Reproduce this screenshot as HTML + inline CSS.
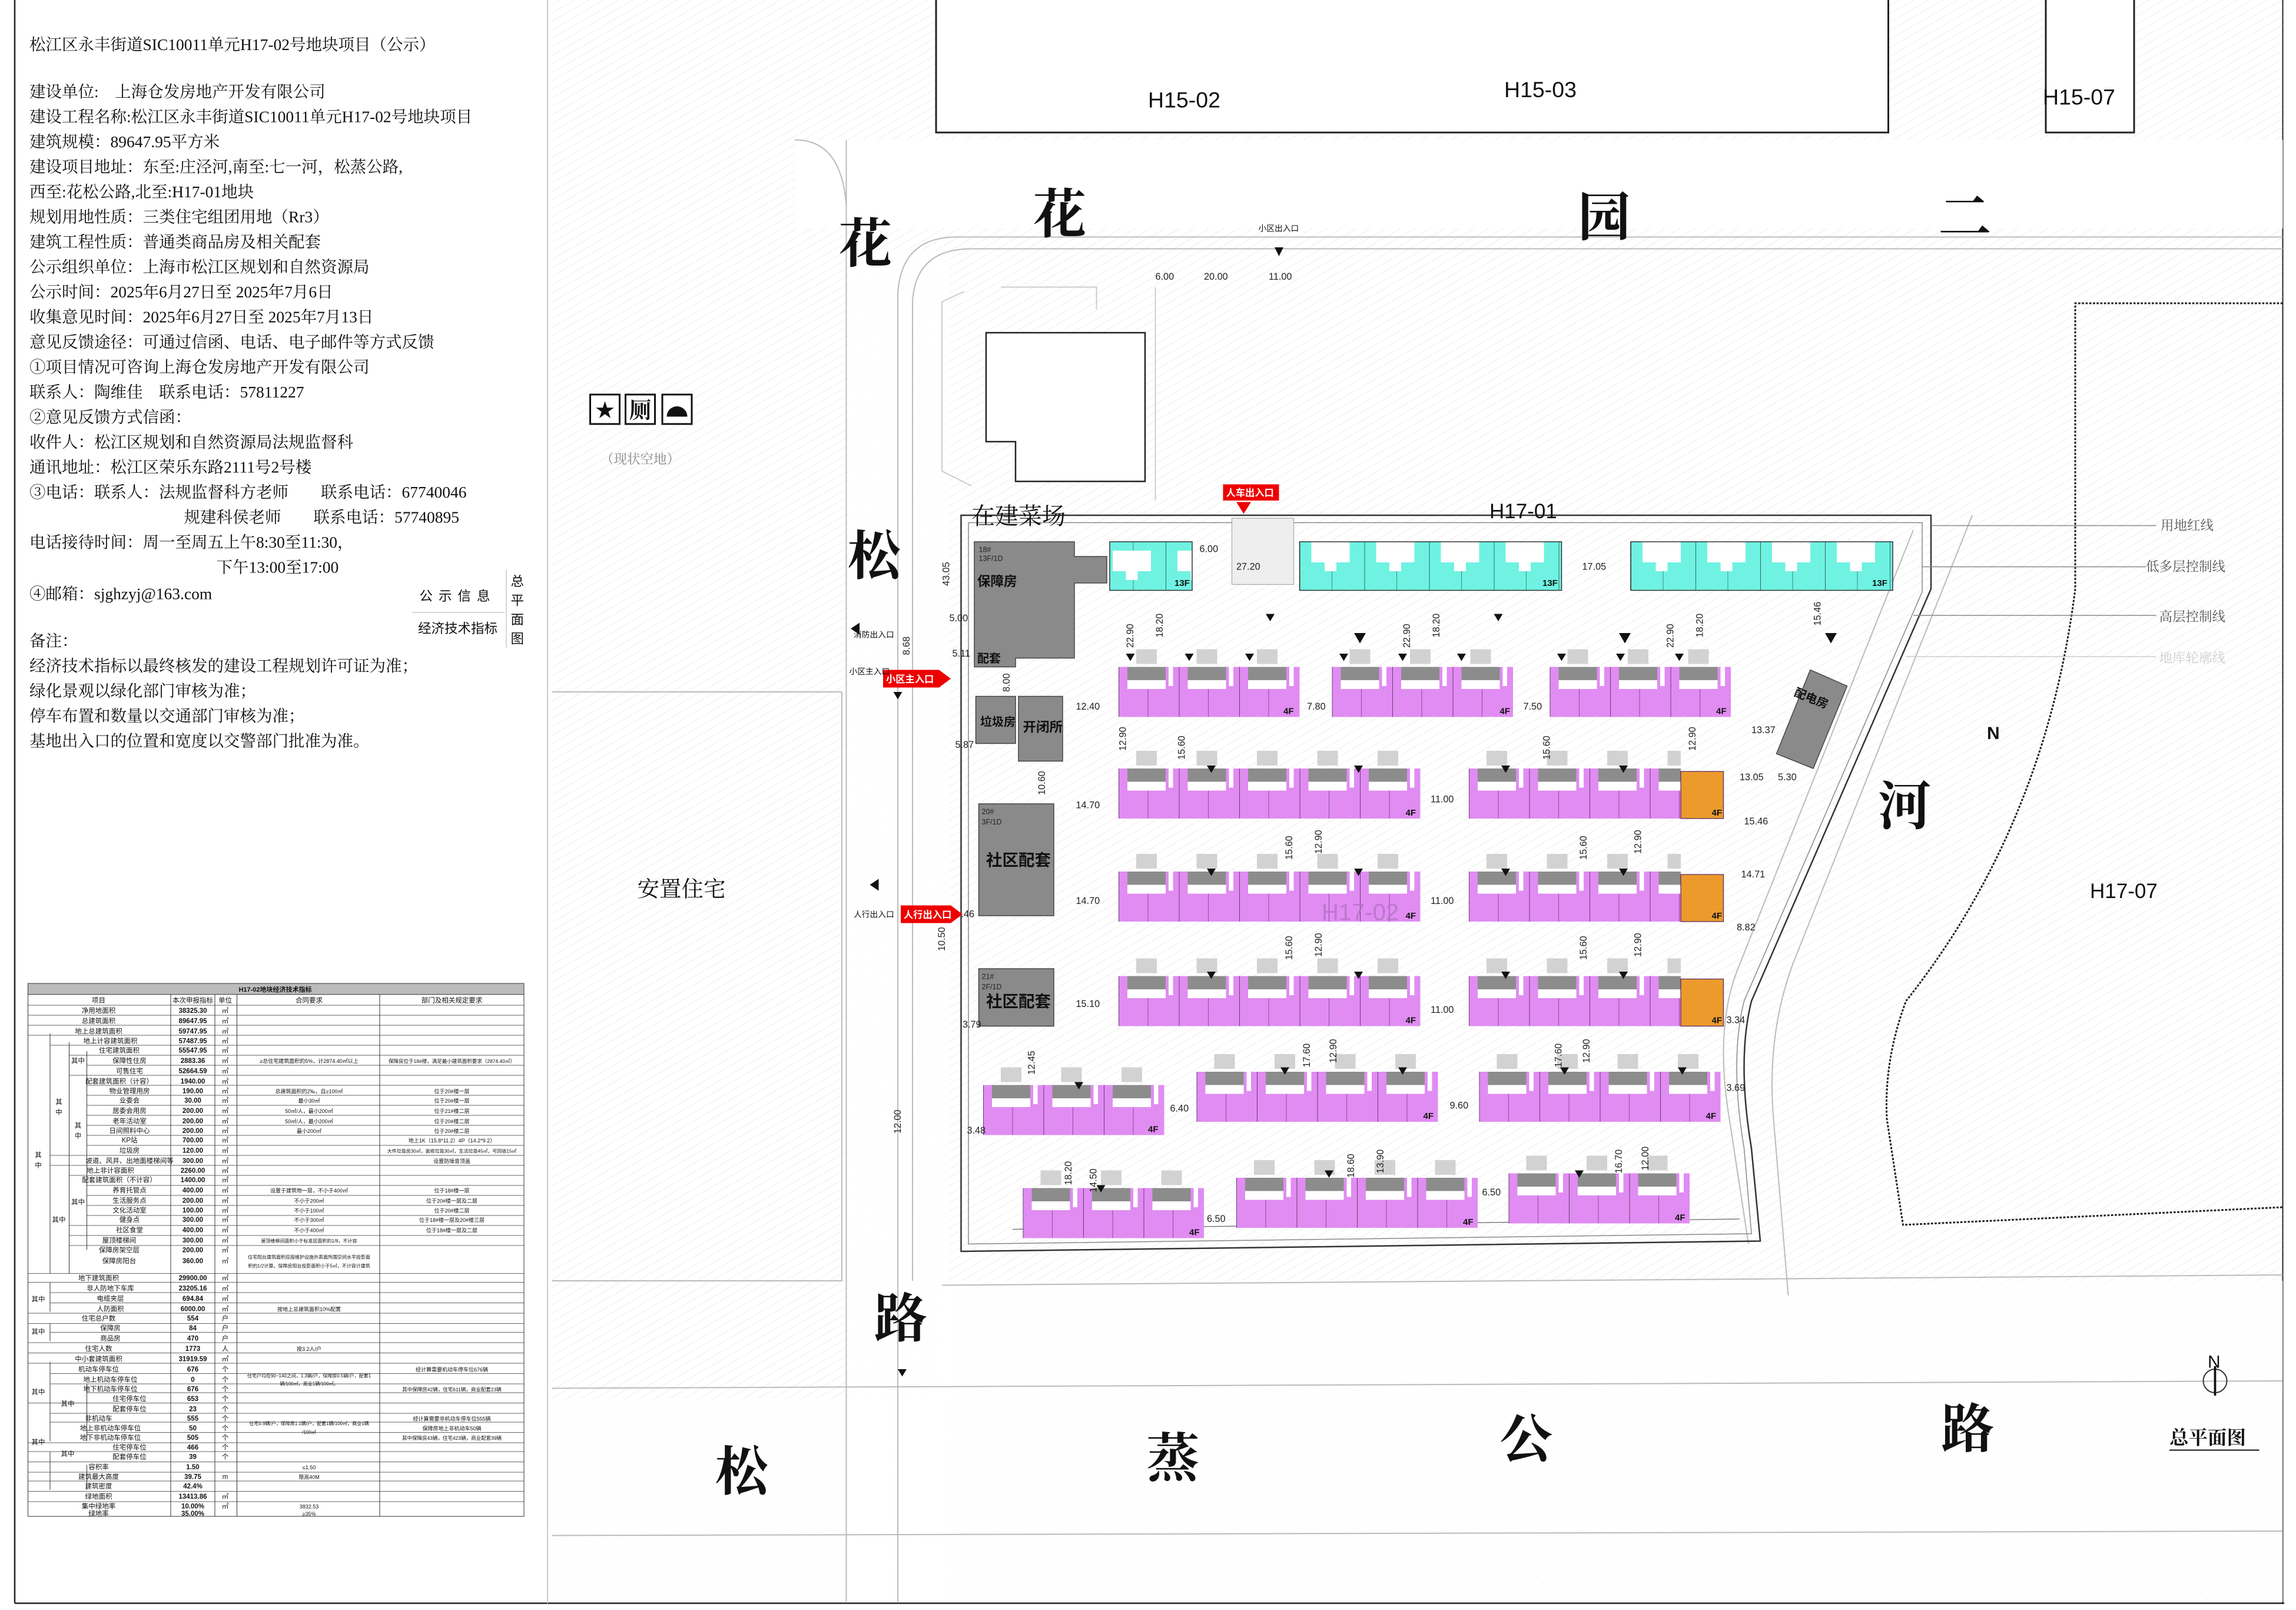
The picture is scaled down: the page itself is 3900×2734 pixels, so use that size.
<!DOCTYPE html>
<html><head><meta charset="utf-8">
<style>
html,body{margin:0;padding:0;background:#fff;}
svg{display:block;}
.t{font-family:"Liberation Serif","Noto Serif CJK SC",serif;fill:#111;}
.s{font-family:"Liberation Sans","Noto Sans CJK SC",sans-serif;fill:#111;}
</style></head>
<body>
<svg width="3900" height="2734" viewBox="0 0 1560 1093.6" xmlns="http://www.w3.org/2000/svg">
<defs>
<pattern id="hatch" width="5" height="5" patternUnits="userSpaceOnUse" patternTransform="rotate(60)">
<line x1="0" y1="0" x2="0" y2="5" stroke="#dcdcdc" stroke-width="0.5"/>
</pattern>
<pattern id="pu" width="41" height="46" patternUnits="userSpaceOnUse">
<rect x="0" y="12" width="41" height="34" fill="#e08cf2"/>
<rect x="12" y="0" width="14" height="10" fill="#d2d2d2"/>
<rect x="6" y="12" width="26" height="9" fill="#8c8c8c"/>
<rect x="6" y="21" width="26" height="6" fill="#fff"/>
<rect x="34" y="12" width="3" height="13" fill="#fff"/>
<line x1="0.2" y1="12" x2="0.2" y2="46" stroke="#6a3a74" stroke-width="0.4"/>
<line x1="20" y1="27" x2="20" y2="46" stroke="#6a3a74" stroke-width="0.3"/>
</pattern>
<pattern id="tu" width="44" height="34" patternUnits="userSpaceOnUse">
<rect x="0" y="0" width="44" height="34" fill="#6ff2e2"/>
<rect x="8" y="0" width="26" height="14" fill="#fff"/>
<rect x="17" y="14" width="8" height="6" fill="#fff"/>
<line x1="0.2" y1="0" x2="0.2" y2="34" stroke="#2a6a66" stroke-width="0.4"/>
<line x1="22" y1="20" x2="22" y2="34" stroke="#2a6a66" stroke-width="0.3"/>
</pattern>
</defs>

<!-- frame -->
<line x1="10" y1="0" x2="10" y2="1089" stroke="#222" stroke-width="1"/>
<line x1="10" y1="1089" x2="1552" y2="1089" stroke="#222" stroke-width="1"/>
<line x1="1551" y1="0" x2="1551" y2="1089" stroke="#222" stroke-width="0.8"/>
<line x1="372" y1="0" x2="372" y2="1089" stroke="#ccc" stroke-width="0.8"/>

<!-- left text -->
<g class="t" font-size="11">
<text x="20" y="34">松江区永丰街道SIC10011单元H17-02号地块项目（公示）</text>
<text x="20" y="66">建设单位:　上海仓发房地产开发有限公司</text>
<text x="20" y="83">建设工程名称:松江区永丰街道SIC10011单元H17-02号地块项目</text>
<text x="20" y="100">建筑规模：89647.95平方米</text>
<text x="20" y="117">建设项目地址：东至:庄泾河,南至:七一河，松蒸公路,</text>
<text x="20" y="134">西至:花松公路,北至:H17-01地块</text>
<text x="20" y="151">规划用地性质：三类住宅组团用地（Rr3）</text>
<text x="20" y="168">建筑工程性质：普通类商品房及相关配套</text>
<text x="20" y="185">公示组织单位：上海市松江区规划和自然资源局</text>
<text x="20" y="202">公示时间：2025年6月27日至 2025年7月6日</text>
<text x="20" y="219">收集意见时间：2025年6月27日至 2025年7月13日</text>
<text x="20" y="236">意见反馈途径：可通过信函、电话、电子邮件等方式反馈</text>
<text x="20" y="253">①项目情况可咨询上海仓发房地产开发有限公司</text>
<text x="20" y="270">联系人：陶维佳　联系电话：57811227</text>
<text x="20" y="287">②意见反馈方式信函：</text>
<text x="20" y="304">收件人：松江区规划和自然资源局法规监督科</text>
<text x="20" y="321">通讯地址：松江区荣乐东路2111号2号楼</text>
<text x="20" y="338">③电话：联系人：法规监督科方老师　　联系电话：67740046</text>
<text x="125" y="355">规建科侯老师　　联系电话：57740895</text>
<text x="20" y="372">电话接待时间：周一至周五上午8:30至11:30，</text>
<text x="147" y="389">下午13:00至17:00</text>
<text x="20" y="407">④邮箱：sjghzyj@163.com</text>
<text x="20" y="439">备注：</text>
<text x="20" y="456">经济技术指标以最终核发的建设工程规划许可证为准；</text>
<text x="20" y="473">绿化景观以绿化部门审核为准；</text>
<text x="20" y="490">停车布置和数量以交通部门审核为准；</text>
<text x="20" y="507">基地出入口的位置和宽度以交警部门批准为准。</text>
</g>
<g class="s" font-size="9">
<text x="285" y="408" letter-spacing="4">公示信息</text>
<text x="284" y="430">经济技术指标</text>
<text x="347" y="398">总</text><text x="347" y="411">平</text><text x="347" y="424">面</text><text x="347" y="437">图</text>
</g>
<line x1="280" y1="416" x2="343" y2="416" stroke="#ccc" stroke-width="0.6"/>
<line x1="344" y1="387" x2="344" y2="440" stroke="#ccc" stroke-width="0.6"/>

<!-- table -->
<g stroke="#333" stroke-width="0.4" fill="none">
<rect x="19" y="668" width="337" height="362"/>
<rect x="19" y="668" width="337" height="7.5" fill="#bbb"/>
<line x1="116" y1="675.5" x2="116" y2="1030"/>
<line x1="146" y1="675.5" x2="146" y2="1030"/>
<line x1="161" y1="675.5" x2="161" y2="1030"/>
<line x1="258" y1="675.5" x2="258" y2="1030"/>
<line x1="34" y1="702" x2="34" y2="865"/>
<line x1="47" y1="708" x2="47" y2="865"/>
<line x1="59" y1="714" x2="59" y2="849"/>
<line x1="34" y1="871" x2="34" y2="891"/>
<line x1="34" y1="899" x2="34" y2="911"/>
<line x1="34" y1="925" x2="34" y2="979"/>
<line x1="59" y1="940" x2="59" y2="979"/>
<line x1="34" y1="986" x2="34" y2="1012"/>
<line x1="59" y1="995" x2="59" y2="1012"/>
</g>
<g stroke="#333" stroke-width="0.3">
<line x1="19" y1="682.8" x2="356" y2="682.8"/>
<line x1="19" y1="689.6" x2="356" y2="689.6"/><line x1="19" y1="696.4" x2="356" y2="696.4"/><line x1="19" y1="703.2" x2="356" y2="703.2"/>
<line x1="34" y1="710" x2="356" y2="710"/><line x1="47" y1="716.8" x2="356" y2="716.8"/><line x1="59" y1="723.6" x2="356" y2="723.6"/>
<line x1="47" y1="730.4" x2="356" y2="730.4"/><line x1="59" y1="737.2" x2="356" y2="737.2"/><line x1="59" y1="744" x2="356" y2="744"/>
<line x1="59" y1="750.8" x2="356" y2="750.8"/><line x1="59" y1="757.6" x2="356" y2="757.6"/><line x1="59" y1="764.4" x2="356" y2="764.4"/>
<line x1="59" y1="771.2" x2="356" y2="771.2"/><line x1="59" y1="778" x2="356" y2="778"/><line x1="34" y1="784.8" x2="356" y2="784.8"/>
<line x1="34" y1="791.6" x2="356" y2="791.6"/><line x1="47" y1="798.4" x2="356" y2="798.4"/><line x1="59" y1="805.2" x2="356" y2="805.2"/>
<line x1="59" y1="812" x2="356" y2="812"/><line x1="59" y1="818.8" x2="356" y2="818.8"/><line x1="59" y1="825.6" x2="356" y2="825.6"/>
<line x1="47" y1="832.4" x2="356" y2="832.4"/><line x1="47" y1="839.2" x2="356" y2="839.2"/><line x1="47" y1="846" x2="356" y2="846"/>
<line x1="19" y1="865" x2="356" y2="865"/><line x1="19" y1="871" x2="356" y2="871"/><line x1="34" y1="878" x2="356" y2="878"/>
<line x1="34" y1="885" x2="356" y2="885"/><line x1="19" y1="892" x2="356" y2="892"/><line x1="19" y1="899" x2="356" y2="899"/>
<line x1="34" y1="905" x2="356" y2="905"/><line x1="19" y1="912" x2="356" y2="912"/><line x1="19" y1="919" x2="356" y2="919"/>
<line x1="19" y1="926" x2="356" y2="926"/><line x1="34" y1="933" x2="356" y2="933"/><line x1="34" y1="940" x2="356" y2="940"/>
<line x1="59" y1="946" x2="356" y2="946"/><line x1="19" y1="953" x2="356" y2="953"/><line x1="34" y1="960" x2="356" y2="960"/>
<line x1="34" y1="966" x2="356" y2="966"/><line x1="59" y1="973" x2="356" y2="973"/><line x1="19" y1="980" x2="356" y2="980"/>
<line x1="19" y1="986" x2="356" y2="986"/><line x1="19" y1="993" x2="356" y2="993"/><line x1="19" y1="1000" x2="356" y2="1000"/>
<line x1="19" y1="1006" x2="356" y2="1006"/><line x1="19" y1="1013" x2="356" y2="1013"/><line x1="19" y1="1020" x2="356" y2="1020"/>
</g>
<g class="s" font-size="4.6" text-anchor="middle">
<text x="187" y="673.6" font-weight="bold" font-size="4.4">H17-02地块经济技术指标</text>
<text x="67" y="681">项目</text><text x="131" y="681">本次申报指标</text><text x="153" y="681">单位</text><text x="210" y="681">合同要求</text><text x="307" y="681">部门及相关规定要求</text>
<text x="67" y="688">净用地面积</text><text x="131" y="688" font-weight="bold">38325.30</text><text x="153" y="688">㎡</text>
<text x="67" y="695">总建筑面积</text><text x="131" y="695" font-weight="bold">89647.95</text><text x="153" y="695">㎡</text>
<text x="67" y="702">地上总建筑面积</text><text x="131" y="702" font-weight="bold">59747.95</text><text x="153" y="702">㎡</text>
<text x="75" y="708.5">地上计容建筑面积</text><text x="131" y="708.5" font-weight="bold">57487.95</text><text x="153" y="708.5">㎡</text>
<text x="81" y="715">住宅建筑面积</text><text x="131" y="715" font-weight="bold">55547.95</text><text x="153" y="715">㎡</text>
<text x="88" y="722">保障性住房</text><text x="131" y="722" font-weight="bold">2883.36</text><text x="153" y="722">㎡</text><text x="210" y="722" font-size="3.6">≥总住宅建筑面积的5%，计2874.40㎡以上</text><text x="307" y="722" font-size="3.4">保障房位于18#楼，满足最小建筑面积要求（2874.40㎡）</text>
<text x="88" y="729">可售住宅</text><text x="131" y="729" font-weight="bold">52664.59</text><text x="153" y="729">㎡</text>
<text x="81" y="736">配套建筑面积（计容）</text><text x="131" y="736" font-weight="bold">1940.00</text><text x="153" y="736">㎡</text>
<text x="88" y="742.5">物业管理用房</text><text x="131" y="742.5" font-weight="bold">190.00</text><text x="153" y="742.5">㎡</text><text x="210" y="742.5" font-size="3.6">总建筑面积的2‰，且≥100㎡</text><text x="307" y="742.5" font-size="3.6">位于20#楼一层</text>
<text x="88" y="749">业委会</text><text x="131" y="749" font-weight="bold">30.00</text><text x="153" y="749">㎡</text><text x="210" y="749" font-size="3.6">最小30㎡</text><text x="307" y="749" font-size="3.6">位于20#楼一层</text>
<text x="88" y="756">居委会用房</text><text x="131" y="756" font-weight="bold">200.00</text><text x="153" y="756">㎡</text><text x="210" y="756" font-size="3.6">50㎡/人，最小200㎡</text><text x="307" y="756" font-size="3.6">位于21#楼二层</text>
<text x="88" y="763">老年活动室</text><text x="131" y="763" font-weight="bold">200.00</text><text x="153" y="763">㎡</text><text x="210" y="763" font-size="3.6">50㎡/人，最小200㎡</text><text x="307" y="763" font-size="3.6">位于20#楼二层</text>
<text x="88" y="769.5">日间照料中心</text><text x="131" y="769.5" font-weight="bold">200.00</text><text x="153" y="769.5">㎡</text><text x="210" y="769.5" font-size="3.6">最小200㎡</text><text x="307" y="769.5" font-size="3.6">位于20#楼二层</text>
<text x="88" y="776">KP站</text><text x="131" y="776" font-weight="bold">700.00</text><text x="153" y="776">㎡</text><text x="307" y="776" font-size="3.6">地上1K（15.8*11.2）4P（14.2*9.2）</text>
<text x="88" y="783">垃圾房</text><text x="131" y="783" font-weight="bold">120.00</text><text x="153" y="783">㎡</text><text x="307" y="783" font-size="3.2">大件垃圾房30㎡，装修垃圾30㎡，生活垃圾45㎡，可回收15㎡</text>
<text x="88" y="790">坡道、风井、出地面楼梯间等</text><text x="131" y="790" font-weight="bold">300.00</text><text x="153" y="790">㎡</text><text x="307" y="790" font-size="3.6">设置防噪音顶盖</text>
<text x="75" y="796.5">地上非计容面积</text><text x="131" y="796.5" font-weight="bold">2260.00</text><text x="153" y="796.5">㎡</text>
<text x="81" y="803">配套建筑面积（不计容）</text><text x="131" y="803" font-weight="bold">1400.00</text><text x="153" y="803">㎡</text>
<text x="88" y="810">养育托管点</text><text x="131" y="810" font-weight="bold">400.00</text><text x="153" y="810">㎡</text><text x="210" y="810" font-size="3.6">设置于建筑物一层，不小于400㎡</text><text x="307" y="810" font-size="3.6">位于18#楼一层</text>
<text x="88" y="817">生活服务点</text><text x="131" y="817" font-weight="bold">200.00</text><text x="153" y="817">㎡</text><text x="210" y="817" font-size="3.6">不小于200㎡</text><text x="307" y="817" font-size="3.6">位于20#楼一层及二层</text>
<text x="88" y="823.5">文化活动室</text><text x="131" y="823.5" font-weight="bold">100.00</text><text x="153" y="823.5">㎡</text><text x="210" y="823.5" font-size="3.6">不小于100㎡</text><text x="307" y="823.5" font-size="3.6">位于20#楼二层</text>
<text x="88" y="830">健身点</text><text x="131" y="830" font-weight="bold">300.00</text><text x="153" y="830">㎡</text><text x="210" y="830" font-size="3.6">不小于300㎡</text><text x="307" y="830" font-size="3.6">位于18#楼一层及20#楼三层</text>
<text x="88" y="837">社区食堂</text><text x="131" y="837" font-weight="bold">400.00</text><text x="153" y="837">㎡</text><text x="210" y="837" font-size="3.6">不小于400㎡</text><text x="307" y="837" font-size="3.6">位于18#楼一层及二层</text>
<text x="81" y="844">屋顶楼梯间</text><text x="131" y="844" font-weight="bold">300.00</text><text x="153" y="844">㎡</text><text x="210" y="844" font-size="3.2">屋顶楼梯间面积小于标准层面积的1/8，不计容</text>
<text x="81" y="850.5">保障房架空层</text><text x="131" y="850.5" font-weight="bold">200.00</text><text x="153" y="850.5">㎡</text>
<text x="81" y="858">保障房阳台</text><text x="131" y="858" font-weight="bold">360.00</text><text x="153" y="858">㎡</text><text x="210" y="855" font-size="3.2">住宅阳台建筑面积应按维护设施外表面所围空间水平投影面</text><text x="210" y="861" font-size="3.2">积的1/2计算。保障房阳台投影面积小于5㎡，不计容计建筑</text>
<text x="67" y="869.5">地下建筑面积</text><text x="131" y="869.5" font-weight="bold">29900.00</text><text x="153" y="869.5">㎡</text>
<text x="75" y="876.5">非人防地下车库</text><text x="131" y="876.5" font-weight="bold">23205.16</text><text x="153" y="876.5">㎡</text>
<text x="75" y="883.5">电缆夹层</text><text x="131" y="883.5" font-weight="bold">694.84</text><text x="153" y="883.5">㎡</text>
<text x="75" y="890.5">人防面积</text><text x="131" y="890.5" font-weight="bold">6000.00</text><text x="153" y="890.5">㎡</text><text x="210" y="890.5" font-size="3.6">按地上总建筑面积10%配置</text>
<text x="67" y="897">住宅总户数</text><text x="131" y="897" font-weight="bold">554</text><text x="153" y="897">户</text>
<text x="75" y="903.5">保障房</text><text x="131" y="903.5" font-weight="bold">84</text><text x="153" y="903.5">户</text>
<text x="75" y="910.5">商品房</text><text x="131" y="910.5" font-weight="bold">470</text><text x="153" y="910.5">户</text>
<text x="67" y="917.5">住宅人数</text><text x="131" y="917.5" font-weight="bold">1773</text><text x="153" y="917.5">人</text><text x="210" y="917.5" font-size="3.6">按3.2人/户</text>
<text x="67" y="924.5">中小套建筑面积</text><text x="131" y="924.5" font-weight="bold">31919.59</text><text x="153" y="924.5">㎡</text>
<text x="67" y="931.5">机动车停车位</text><text x="131" y="931.5" font-weight="bold">676</text><text x="153" y="931.5">个</text><text x="307" y="931.5" font-size="3.6">经计算需要机动车停车位676辆</text>
<text x="75" y="938.5">地上机动车停车位</text><text x="131" y="938.5" font-weight="bold">0</text><text x="153" y="938.5">个</text><text x="210" y="935.5" font-size="3.2">住宅户均在90~140之间，1.3辆/户，保障房0.5辆/户，配套1</text><text x="210" y="941" font-size="3.2">辆/100㎡，商业1辆/100㎡。</text>
<text x="75" y="945">地下机动车停车位</text><text x="131" y="945" font-weight="bold">676</text><text x="153" y="945">个</text><text x="307" y="945" font-size="3.4">其中保障房42辆，住宅611辆，商业配套23辆</text>
<text x="88" y="951.5">住宅停车位</text><text x="131" y="951.5" font-weight="bold">653</text><text x="153" y="951.5">个</text>
<text x="88" y="958.5">配套停车位</text><text x="131" y="958.5" font-weight="bold">23</text><text x="153" y="958.5">个</text>
<text x="67" y="965">非机动车</text><text x="131" y="965" font-weight="bold">555</text><text x="153" y="965">个</text><text x="307" y="965" font-size="3.6">经计算需要非机动车停车位555辆</text>
<text x="75" y="971.5">地上非机动车停车位</text><text x="131" y="971.5" font-weight="bold">50</text><text x="153" y="971.5">个</text><text x="210" y="968" font-size="3.2">住宅0.9辆/户，保障房1.1辆/户，配套1辆/100㎡，商业1辆</text><text x="210" y="974" font-size="3.2">/100㎡</text><text x="307" y="971.5" font-size="3.6">保障房地上非机动车50辆</text>
<text x="75" y="978">地下非机动车停车位</text><text x="131" y="978" font-weight="bold">505</text><text x="153" y="978">个</text><text x="307" y="978" font-size="3.4">其中保障房43辆，住宅423辆，商业配套39辆</text>
<text x="88" y="984.5">住宅停车位</text><text x="131" y="984.5" font-weight="bold">466</text><text x="153" y="984.5">个</text>
<text x="88" y="991">配套停车位</text><text x="131" y="991" font-weight="bold">39</text><text x="153" y="991">个</text>
<text x="67" y="998">容积率</text><text x="131" y="998" font-weight="bold">1.50</text><text x="210" y="998" font-size="3.6">≤1.50</text>
<text x="67" y="1004.5">建筑最大高度</text><text x="131" y="1004.5" font-weight="bold">39.75</text><text x="153" y="1004.5">m</text><text x="210" y="1004.5" font-size="3.6">限高40M</text>
<text x="67" y="1011">建筑密度</text><text x="131" y="1011" font-weight="bold">42.4%</text>
<text x="67" y="1018">绿地面积</text><text x="131" y="1018" font-weight="bold">13413.86</text><text x="153" y="1018">㎡</text>
<text x="67" y="1024.5">集中绿地率</text><text x="131" y="1024.5" font-weight="bold">10.00%</text><text x="153" y="1024.5">㎡</text><text x="210" y="1024.5" font-size="3.6">3832.53</text>
<text x="67" y="1029.5">绿地率</text><text x="131" y="1029.5" font-weight="bold">35.00%</text><text x="210" y="1029.5" font-size="3.6">≥35%</text>
<text x="26" y="786">其</text><text x="26" y="793">中</text>
<text x="40" y="750">其</text><text x="40" y="757">中</text>
<text x="53" y="766">其</text><text x="53" y="773">中</text>
<text x="53" y="722">其中</text>
<text x="40" y="830">其中</text><text x="53" y="818">其中</text>
<text x="26" y="884">其中</text><text x="26" y="906">其中</text><text x="26" y="947">其中</text><text x="46" y="955">其中</text>
<text x="26" y="981">其中</text><text x="46" y="989">其中</text>
</g>

<!-- site: hatched areas -->
<rect x="375" y="0" width="1176" height="1088" fill="url(#hatch)" opacity="0.8"/>
<rect x="540" y="95" width="1011" height="60" fill="#fff"/>
<rect x="575" y="170" width="70" height="918" fill="#fff" opacity="0.85"/>
<rect x="640" y="870" width="911" height="80" fill="#fff" opacity="0.8"/>
<rect x="375" y="950" width="1176" height="138" fill="#fff" opacity="0.7"/>

<!-- top blocks -->
<g stroke="#222" stroke-width="1.2" fill="#fff">
<polyline points="636,0 636,90 1283,90 1283,0"/>
<polyline points="1390,0 1390,90 1450,90 1450,0"/>
</g>
<g class="s" font-size="15">
<text x="780" y="73">H15-02</text><text x="1022" y="66">H15-03</text><text x="1388" y="71">H15-07</text>
</g>
<!-- roads -->
<g stroke="#bbb" stroke-width="0.8" fill="none">
<path d="M1551,161 L650,161 Q612,161 610,200 L610,1088"/>
<path d="M1551,169 L660,169 Q622,169 620,205 L620,870"/>
<path d="M575,95 L575,1088"/>
<path d="M540,95 Q572,95 575,140"/>
<line x1="640" y1="873" x2="1551" y2="866"/>
<line x1="375" y1="943" x2="1551" y2="938"/>
<line x1="375" y1="1043" x2="1551" y2="1040"/>
<path d="M1300,360 L1180,660 Q1165,700 1175,760 L1188,845"/>
<path d="M1340,350 L1220,650 Q1200,700 1205,760 L1215,880"/>
<line x1="375" y1="470" x2="572" y2="470"/>
<line x1="572" y1="470" x2="572" y2="870"/>
<line x1="375" y1="870" x2="572" y2="870"/>
</g>
<!-- H17-07 dotted -->
<path d="M1551,206 L1410,206 L1410,400 Q1390,560 1295,680 Q1280,720 1282,760 L1293,832 L1551,820" fill="none" stroke="#222" stroke-width="1.2" stroke-dasharray="1.5,1"/>
<text class="s" x="1420" y="610" font-size="14">H17-07</text>
<text class="s" x="1350" y="502" font-size="12" font-weight="bold">N</text>

<!-- existing building outline -->
<g stroke="#222" stroke-width="1" fill="#fff">
<polygon points="670,226 778,226 778,327 690,327 690,300 670,300"/>
</g>
<path d="M655,198 L640,205 L640,320 L660,330 M680,195 L745,195 L745,210 M785,195 L785,340" stroke="#ccc" fill="none" stroke-width="0.8"/>
<!-- icons -->
<g>
<rect x="401" y="268" width="20" height="20" fill="#fff" stroke="#111" stroke-width="1.2"/>
<text x="411" y="284" font-size="16" text-anchor="middle" fill="#111">★</text>
<rect x="425" y="268" width="20" height="20" fill="#fff" stroke="#111" stroke-width="1.2"/>
<text class="t" x="435" y="284" font-size="15" text-anchor="middle" font-weight="bold">厕</text>
<rect x="450" y="268" width="20" height="20" fill="#fff" stroke="#111" stroke-width="1.2"/>
<path d="M453,283 A7,7 0 0 1 467,283 Z" fill="#111"/>
</g>
<text class="t" x="408" y="315" font-size="9" style="fill:#888">（现状空地）</text>
<text class="t" x="433" y="609" font-size="15">安置住宅</text>

<!-- big road names -->
<g class="t" font-size="36" font-weight="bold">
<text x="570" y="178">花</text><text x="702" y="158">花</text><text x="1072" y="160">园</text><text x="1317" y="160">二</text>
<text x="576" y="390">松</text><text x="1276" y="560">河</text><text x="594" y="908">路</text>
<text x="486" y="1012">松</text><text x="779" y="1003">蒸</text><text x="1019" y="990">公</text><text x="1319" y="983">路</text>
</g>

<!-- site boundary -->
<path d="M653,350 L1312,350 L1312,400 L1190,680 Q1180,720 1190,780 L1196,843 L653,850 Z" fill="none" stroke="#333" stroke-width="1"/>
<path d="M658,355 L1306,355 L1306,402 L1185,680 Q1175,720 1185,780 L1190,838 L658,845 Z" fill="none" stroke="#888" stroke-width="0.6"/>
<path d="M688,835 L1182,828" stroke="#666" stroke-width="0.5"/>
<!-- legend lines -->
<g stroke="#888" stroke-width="0.6">
<line x1="1312" y1="357" x2="1465" y2="357"/><line x1="1306" y1="385" x2="1458" y2="385"/><line x1="1300" y1="418" x2="1465" y2="418"/><line x1="1295" y1="446" x2="1465" y2="446" stroke="#ccc"/>
</g>
<g class="t" font-size="9">
<text x="1468" y="360" style="fill:#555">用地红线</text><text x="1458" y="388" style="fill:#555">低多层控制线</text><text x="1467" y="422" style="fill:#555">高层控制线</text><text x="1467" y="450" style="fill:#ccc">地库轮廓线</text>
</g>

<!-- labels -->
<text class="s" x="1012" y="352" font-size="14">H17-01</text>
<text class="t" x="660" y="356" font-size="16">在建菜场</text>

<!-- entrance gate -->
<rect x="837" y="352" width="42" height="45" fill="#eee" stroke="#aaa" stroke-width="0.5"/>
<!-- red labels -->
<g class="s" font-size="6.5" font-weight="bold">
<rect x="831" y="329" width="38" height="11" fill="#e00"/><text x="833" y="337" style="fill:#fff">人车出入口</text>
<polygon points="840,341 850,341 845,349" fill="#e00"/>
<rect x="600" y="455" width="38" height="12" fill="#e00"/><text x="602" y="463.5" style="fill:#fff">小区主入口</text>
<polygon points="638,455 646,461 638,467" fill="#e00"/>
<rect x="612" y="615" width="34" height="12" fill="#e00"/><text x="614" y="623.5" style="fill:#fff">人行出入口</text>
<polygon points="646,615 654,621 646,627" fill="#e00"/>
</g>
<g class="s" font-size="5.5">
<text x="855" y="157">小区出入口</text><text x="580" y="433">消防出入口</text><text x="577" y="458">小区主入口</text><text x="580" y="623">人行出入口</text>
</g>
<polygon points="866,168 872,168 869,174" fill="#111"/>

<!-- gray buildings -->
<g fill="#8a8a8a" stroke="#444" stroke-width="0.6">
<polygon points="662,368 730,368 730,378 752,378 752,396 730,396 730,447 690,447 690,453 662,453"/>
<rect x="663" y="473" width="27" height="32"/>
<rect x="692" y="473" width="30" height="44"/>
<rect x="665" y="546" width="51" height="76"/>
<polygon points="665,658 716,658 716,697 665,697"/>
<polygon points="1230,455 1255,466 1232,522 1207,512"/>
</g>
<g class="s" font-weight="bold" font-size="10">
<text x="664" y="398" font-size="9">保障房</text>
<text x="664" y="450" font-size="8">配套</text>
<text x="666" y="493" font-size="8">垃圾房</text>
<text x="695" y="497" font-size="9">开闭所</text>
<text x="670" y="588" font-size="11">社区配套</text>
<text x="670" y="684" font-size="11">社区配套</text>
<text x="1218" y="475" font-size="8" transform="rotate(22 1225 475)">配电房</text>
</g>
<g class="s" font-size="5" style="fill:#222">
<text x="665" y="375">18#</text><text x="665" y="381">13F/1D</text>
<text x="667" y="553">20#</text><text x="667" y="560">3F/1D</text>
<text x="667" y="665">21#</text><text x="667" y="672">2F/1D</text>
</g>

<!-- teal buildings -->
<g stroke="#333" stroke-width="0.6">
<rect x="754" y="368" width="56" height="33" fill="url(#tu)"/>
<g transform="translate(883,368)"><rect width="178" height="33" fill="url(#tu)"/></g>
<g transform="translate(1108,368)"><rect width="178" height="33" fill="url(#tu)"/></g>
</g>
<g class="s" font-size="6" font-weight="bold"><text x="798" y="398">13F</text><text x="1048" y="398">13F</text><text x="1272" y="398">13F</text></g>

<!-- pink buildings -->
<g stroke="#5a2a64" stroke-width="0.5">
<g transform="translate(760,441)"><rect width="123" height="46" fill="url(#pu)" stroke="none"/></g>
<g transform="translate(905,441)"><rect width="123" height="46" fill="url(#pu)" stroke="none"/></g>
<g transform="translate(1053,441)"><rect width="123" height="46" fill="url(#pu)" stroke="none"/></g>
<g transform="translate(760,510)"><rect width="205" height="46" fill="url(#pu)" stroke="none"/></g>
<g transform="translate(998,510)"><rect width="144" height="46" fill="url(#pu)" stroke="none"/><rect x="144" y="14" width="29" height="32" fill="#ec9a2c"/></g>
<g transform="translate(760,580)"><rect width="205" height="46" fill="url(#pu)" stroke="none"/></g>
<g transform="translate(998,580)"><rect width="144" height="46" fill="url(#pu)" stroke="none"/><rect x="144" y="14" width="29" height="32" fill="#ec9a2c"/></g>
<g transform="translate(760,651)"><rect width="205" height="46" fill="url(#pu)" stroke="none"/></g>
<g transform="translate(998,651)"><rect width="144" height="46" fill="url(#pu)" stroke="none"/><rect x="144" y="14" width="29" height="32" fill="#ec9a2c"/></g>
<g transform="translate(668,725)"><rect width="123" height="46" fill="url(#pu)" stroke="none"/></g>
<g transform="translate(813,716)"><rect width="164" height="46" fill="url(#pu)" stroke="none"/></g>
<g transform="translate(1005,716)"><rect width="164" height="46" fill="url(#pu)" stroke="none"/></g>
<g transform="translate(695,795)"><rect width="123" height="46" fill="url(#pu)" stroke="none"/></g>
<g transform="translate(840,788)"><rect width="164" height="46" fill="url(#pu)" stroke="none"/></g>
<g transform="translate(1025,785)"><rect width="123" height="46" fill="url(#pu)" stroke="none"/></g>
</g>
<g class="s" font-size="6" font-weight="bold">
<text x="872" y="485">4F</text><text x="1019" y="485">4F</text><text x="1166" y="485">4F</text>
<text x="955" y="554">4F</text><text x="1163" y="554">4F</text>
<text x="955" y="624">4F</text><text x="1163" y="624">4F</text>
<text x="955" y="695">4F</text><text x="1163" y="695">4F</text>
<text x="780" y="769">4F</text><text x="967" y="760">4F</text><text x="1159" y="760">4F</text>
<text x="808" y="839">4F</text><text x="994" y="832">4F</text><text x="1138" y="829">4F</text>
</g>
<text class="s" x="898" y="625" font-size="16" style="fill:#b070c0" opacity="0.7">H17-02</text>

<!-- dimension labels -->
<g class="s" font-size="6.5" style="fill:#222">
<text x="785" y="190">6.00</text><text x="818" y="190">20.00</text><text x="862" y="190">11.00</text>
<text x="815" y="375">6.00</text><text x="840" y="387">27.20</text><text x="1075" y="387">17.05</text>
<text x="731" y="482">12.40</text><text x="888" y="482">7.80</text><text x="1035" y="482">7.50</text>
<text x="731" y="549">14.70</text><text x="731" y="614">14.70</text><text x="731" y="684">15.10</text>
<text x="972" y="545">11.00</text><text x="972" y="614">11.00</text><text x="972" y="688">11.00</text>
<text x="795" y="755">6.40</text><text x="985" y="753">9.60</text><text x="820" y="830">6.50</text><text x="1007" y="812">6.50</text>
<text x="1190" y="498">13.37</text><text x="1182" y="530">13.05</text><text x="1185" y="560">15.46</text><text x="1183" y="596">14.71</text><text x="1180" y="632">8.82</text><text x="1173" y="695">3.34</text><text x="1173" y="741">3.69</text>
<text x="1208" y="530">5.30</text>
</g>
<g class="s" font-size="6.5" style="fill:#222">
<text transform="translate(645,398) rotate(-90)">43.05</text>
<text transform="translate(618,445) rotate(-90)">8.68</text>
<text transform="translate(770,440) rotate(-90)">22.90</text>
<text transform="translate(790,433) rotate(-90)">18.20</text>
<text transform="translate(958,440) rotate(-90)">22.90</text>
<text transform="translate(978,433) rotate(-90)">18.20</text>
<text transform="translate(1137,440) rotate(-90)">22.90</text>
<text transform="translate(1157,433) rotate(-90)">18.20</text>
<text transform="translate(1237,425) rotate(-90)">15.46</text>
<text transform="translate(765,510) rotate(-90)">12.90</text>
<text transform="translate(805,516) rotate(-90)">15.60</text>
<text transform="translate(1053,516) rotate(-90)">15.60</text>
<text transform="translate(1152,510) rotate(-90)">12.90</text>
<text transform="translate(878,584) rotate(-90)">15.60</text>
<text transform="translate(898,580) rotate(-90)">12.90</text>
<text transform="translate(1078,584) rotate(-90)">15.60</text>
<text transform="translate(1115,580) rotate(-90)">12.90</text>
<text transform="translate(878,652) rotate(-90)">15.60</text>
<text transform="translate(898,650) rotate(-90)">12.90</text>
<text transform="translate(1078,652) rotate(-90)">15.60</text>
<text transform="translate(1115,650) rotate(-90)">12.90</text>
<text transform="translate(710,540) rotate(-90)">10.60</text>
<text transform="translate(642,646) rotate(-90)">10.50</text>
<text transform="translate(890,725) rotate(-90)">17.60</text>
<text transform="translate(908,722) rotate(-90)">12.90</text>
<text transform="translate(1061,725) rotate(-90)">17.60</text>
<text transform="translate(1080,722) rotate(-90)">12.90</text>
<text transform="translate(703,730) rotate(-90)">12.45</text>
<text transform="translate(728,805) rotate(-90)">18.20</text>
<text transform="translate(745,810) rotate(-90)">14.50</text>
<text transform="translate(920,800) rotate(-90)">18.60</text>
<text transform="translate(940,797) rotate(-90)">13.90</text>
<text transform="translate(1102,797) rotate(-90)">16.70</text>
<text transform="translate(1120,795) rotate(-90)">12.00</text>
<text transform="translate(612,770) rotate(-90)">12.00</text>
<text transform="translate(686,470) rotate(-90)">8.00</text>
</g>
<g class="s" font-size="6.5" style="fill:#222">
<text x="645" y="422">5.00</text><text x="647" y="446">5.11</text><text x="649" y="508">5.87</text><text x="653" y="623">.46</text><text x="654" y="698">3.79</text><text x="657" y="770">3.48</text>
</g>
<!-- small arrows -->
<g fill="#111">
<polygon points="765,444 771,444 768,449"/><polygon points="805,444 811,444 808,449"/><polygon points="846,444 852,444 849,449"/>
<polygon points="910,444 916,444 913,449"/><polygon points="950,444 956,444 953,449"/><polygon points="990,444 996,444 993,449"/>
<polygon points="1058,444 1064,444 1061,449"/><polygon points="1098,444 1104,444 1101,449"/><polygon points="1138,444 1144,444 1141,449"/>
<polygon points="920,430 928,430 924,437"/><polygon points="1100,430 1108,430 1104,437"/><polygon points="1240,430 1248,430 1244,437"/>
<polygon points="860,417 866,417 863,422"/><polygon points="1015,417 1021,417 1018,422"/>
<polygon points="820,520 826,520 823,525"/><polygon points="920,520 926,520 923,525"/><polygon points="1020,520 1026,520 1023,525"/><polygon points="1100,520 1106,520 1103,525"/>
<polygon points="820,590 826,590 823,595"/><polygon points="920,590 926,590 923,595"/><polygon points="1020,590 1026,590 1023,595"/><polygon points="1100,590 1106,590 1103,595"/>
<polygon points="820,660 826,660 823,665"/><polygon points="920,660 926,660 923,665"/><polygon points="1020,660 1026,660 1023,665"/><polygon points="1100,660 1106,660 1103,665"/>
<polygon points="730,735 736,735 733,740"/><polygon points="870,725 876,725 873,730"/><polygon points="950,725 956,725 953,730"/><polygon points="1060,725 1066,725 1063,730"/><polygon points="1140,725 1146,725 1143,730"/>
<polygon points="745,805 751,805 748,810"/><polygon points="900,795 906,795 903,800"/><polygon points="1070,795 1076,795 1073,800"/>
<polygon points="610,930 616,930 613,935"/><polygon points="607,470 613,470 610,475"/>
</g>
<g fill="#111">
<polygon points="578,427 584,423 584,431"/><polygon points="591,601 597,597 597,605"/>
</g>

<!-- north arrow bottom right -->
<text class="s" x="1500" y="929" font-size="12">N</text>
<circle cx="1505" cy="938" r="8" fill="none" stroke="#333" stroke-width="0.8"/>
<line x1="1505" y1="928" x2="1505" y2="948" stroke="#111" stroke-width="1.5"/>
<text class="t" x="1474" y="981" font-size="13" font-weight="bold">总平面图</text>
<line x1="1474" y1="985" x2="1535" y2="985" stroke="#111" stroke-width="0.8"/>
</svg>
</body></html>
